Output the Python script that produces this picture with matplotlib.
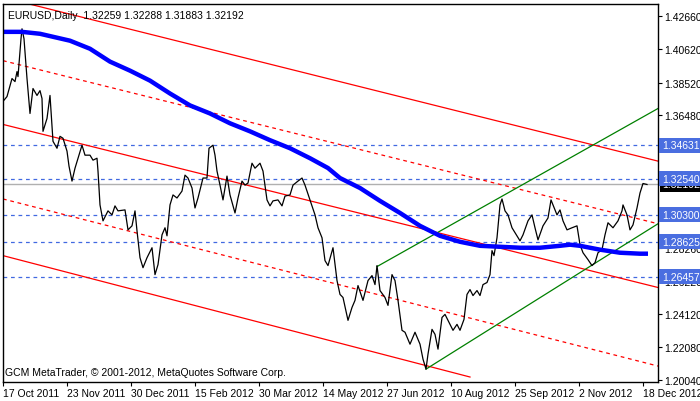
import matplotlib
matplotlib.use("Agg")
import matplotlib.pyplot as plt
plt.rcParams['font.family'] = ['Liberation Sans', 'DejaVu Sans']

# close prices (bar position, price)
close_x = [3,7,12,15,17,18,21,22,24,27,30,33,37,40,42,43,47,50,53,57,60,63,67,69,72,75,78,82,85,90,93,97,98,100,103,108,112,115,118,125,128,132,135,137,140,143,147,152,155,158,162,165,167,170,173,177,182,185,188,192,195,198,203,207,209,213,215,217,220,223,227,230,235,238,242,245,248,252,255,260,263,267,270,273,278,282,285,290,293,298,302,305,310,315,318,322,325,328,
           333,337,340,343,348,352,355,358,363,368,372,375,377,380,385,388,392,395,398,402,405,410,415,420,423,426,428,432,435,438,442,445,450,453,457,460,464,467,470,473,477,480,483,487,490,492,494,497,500,502,505,508,512,517,520,523,528,532,535,538,543,548,551,553,557,560,563,567,572,577,580,583,588,592,595,598,602,605,608,613,618,622,623,627,630,633,637,640,643,647]
close_p = [1.3735,1.3765,1.3877,1.3858,1.3920,1.3889,1.4124,1.4186,1.4124,1.3877,1.3660,1.3815,1.3772,1.3802,1.3753,1.3549,1.3629,1.3772,1.3487,1.3444,1.3518,1.3506,1.3426,1.3333,1.3240,1.3320,1.3382,1.3463,1.3401,1.3401,1.3370,1.3382,1.3302,1.3092,1.2993,1.3055,1.3030,1.3086,1.3055,1.3061,1.2937,1.2962,1.3055,1.2931,1.2764,1.2702,1.2764,1.2826,1.2659,1.2721,1.2906,1.2950,1.2900,1.3092,1.3154,1.3135,1.3178,1.3277,1.3259,1.3197,1.3073,1.3135,1.3259,1.3259,1.3444,1.3463,1.3401,1.3302,1.3215,1.3123,1.3271,1.3154,1.3042,1.3135,1.3240,1.3215,1.3228,1.3351,1.3320,1.3351,1.3302,1.3123,1.3086,1.3117,1.3123,1.3086,1.3147,1.3154,1.3215,1.3240,1.3259,1.3215,1.3123,1.3030,1.2950,1.2888,1.2746,1.2715,
           1.2826,1.2622,1.2536,1.2517,1.2375,1.2455,1.2499,1.2591,1.2499,1.2622,1.2653,1.2597,1.2715,1.2560,1.2517,1.2468,1.2659,1.2622,1.2499,1.2313,1.2301,1.2227,1.2301,1.2227,1.2134,1.2072,1.2165,1.2319,1.2288,1.2196,1.2393,1.2412,1.2350,1.2313,1.2350,1.2313,1.2381,1.2536,1.2566,1.2529,1.2560,1.2529,1.2597,1.2610,1.2659,1.2808,1.2777,1.2888,1.3092,1.3129,1.3055,1.3030,1.2950,1.2900,1.2869,1.2906,1.2993,1.3030,1.2950,1.2875,1.2962,1.3011,1.3123,1.3092,1.3030,1.3061,1.2993,1.2937,1.2950,1.2962,1.2845,1.2795,1.2752,1.2715,1.2733,1.2795,1.2814,1.2906,1.2981,1.2950,1.2993,1.3055,1.3092,1.3030,1.2937,1.2968,1.3073,1.3166,1.3225,1.3219]

ma_x = [3,22,40,70,90,110,130,150,170,190,210,230,250,270,290,310,328,340,360,380,400,420,440,460,480,500,520,540,560,570,580,600,620,640,648]
ma_p = [1.4167,1.4167,1.4155,1.4112,1.4062,1.3982,1.3926,1.3864,1.3784,1.3710,1.3660,1.3599,1.3549,1.3494,1.3444,1.3382,1.3321,1.3259,1.3197,1.3117,1.3042,1.2962,1.2900,1.2863,1.2838,1.2832,1.2826,1.2826,1.2838,1.2845,1.2838,1.2814,1.2795,1.2789,1.2789]

red_solid = [((17,1.4359),(658,1.3364)),((3,1.3592),(658,1.2579)),((3,1.2777),(470,1.2023))]
red_dashed = [((3,1.3988),(658,1.2975)),((3,1.3129),(658,1.2091))]
green_lines = [((377,1.2709),(658,1.3691)),((426,1.2072),(658,1.2975))]

levels = [1.34631,1.32540,1.30300,1.28625,1.26457]
current = 1.32192
yticks = [1.42660,1.40620,1.38520,1.36480,1.34440,1.32400,1.30300,1.28260,1.26220,1.24120,1.22080,1.20040]
xtick_pos = [3,67,131,195,259,323,387,451,515,579,643]
xtick_lab = ["17 Oct 2011","23 Nov 2011","30 Dec 2011","15 Feb 2012","30 Mar 2012","14 May 2012",
             "27 Jun 2012","10 Aug 2012","25 Sep 2012","2 Nov 2012","18 Dec 2012"]

fig = plt.figure(figsize=(7,4.02), dpi=100)
ax = fig.add_axes([3/700, 19/402, 655/700, 378/402])
ax.set_xlim(3,658)
ax.set_ylim(1.1992,1.4340)

for lv in levels:
    ax.axhline(lv, color="#4169e1", lw=0.9, ls=(0,(3,3)))
ax.axhline(current, color="#b0b0b0", lw=1)
for (a,b) in red_solid:
    ax.plot([a[0],b[0]],[a[1],b[1]], color="red", lw=0.9)
for (a,b) in red_dashed:
    ax.plot([a[0],b[0]],[a[1],b[1]], color="red", lw=0.9, ls=(0,(3,3)))
for (a,b) in green_lines:
    ax.plot([a[0],b[0]],[a[1],b[1]], color="green", lw=0.9)
ax.plot(close_x, close_p, color="black", lw=0.9)
ax.plot(ma_x, ma_p, color="#0000ff", lw=3.2, solid_capstyle="butt")

ax.yaxis.tick_right()
ax.set_yticks(yticks)
ax.set_yticklabels([f"{v:.5f}" for v in yticks])
ax.set_xticks(xtick_pos)
ax.set_xticklabels(xtick_lab, ha="left")
ax.tick_params(labelsize=7.5, length=3, pad=1.5)
for sp in ax.spines.values():
    sp.set_linewidth(1)

tr = ax.get_yaxis_transform()
for lv in levels:
    ax.text(1.006, lv, f"{lv:.5f}", transform=tr, va="center", ha="left", fontsize=7.5, color="white",
            bbox=dict(boxstyle="square,pad=0.25", fc="#4a6ee0", ec="none"), clip_on=False, zorder=5)
ax.text(1.006, current, f"{current:.5f}", transform=tr, va="center", ha="left", fontsize=7.5, color="white",
        bbox=dict(boxstyle="square,pad=0.2", fc="black", ec="none"), clip_on=False, zorder=4)

ax.text(0.007, 0.985, "EURUSD,Daily  1.32259 1.32288 1.31883 1.32192", transform=ax.transAxes,
        fontsize=7.5, va="top", ha="left")
ax.text(0.003, 0.012, "GCM MetaTrader, © 2001-2012, MetaQuotes Software Corp.", transform=ax.transAxes,
        fontsize=7.5, va="bottom", ha="left")

fig.savefig("out.png", dpi=100)
